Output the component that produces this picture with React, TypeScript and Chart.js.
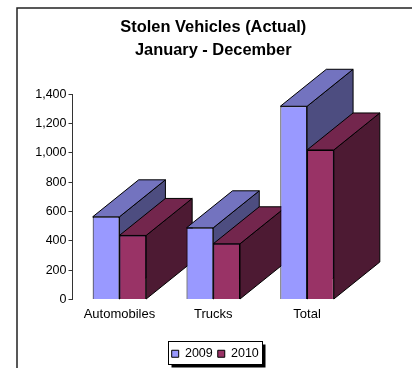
import React, { useEffect, useRef } from "react";
import { Chart, registerables } from "chart.js";

Chart.register(...registerables);

const categories = ["Automobiles", "Trucks", "Total"];
const series2009 = [564, 489, 1318];
const series2010 = [437, 380, 1020];
const seriesNames = ["2009", "2010"];
const frontColors = ["#9999ff", "#993366"];
const topColors = ["#7373bf", "#73264d"];
const sideColors = ["#4d4d80", "#4d1a33"];
const titleLines = ["Stolen Vehicles (Actual)", "January - December"];
const FONT = "'Liberation Sans', Arial, sans-serif";
const DX = 46;
const DY = 37;

const depth3d = {
  id: "depth3d",
  afterLayout(chart: any) {
    chart.legend.left += 2;
    chart.legend.right += 2;
    chart.legend.top += 2;
    chart.legend.bottom += 2;
  },
  beforeDraw(chart: any) {
    const c = chart.ctx;
    c.save();
    c.fillStyle = "#fff";
    c.fillRect(0, 0, chart.width, chart.height);
    c.strokeStyle = "#222";
    c.lineWidth = 1.5;
    c.beginPath();
    c.moveTo(17, 368);
    c.lineTo(17, 8);
    c.lineTo(412, 8);
    c.stroke();
    const g = chart.legend;
    const cx = (g.left + g.right) / 2;
    const w = 94;
    const h = 23;
    const x = Math.round(cx - w / 2) + 0.5;
    const y = Math.round(g.top - 2) + 0.5;
    c.fillStyle = "#000";
    c.fillRect(x + 3, y + 3, w, h);
    c.fillStyle = "#fff";
    c.fillRect(x, y, w, h);
    c.lineWidth = 1;
    c.strokeStyle = "#000";
    c.strokeRect(x, y, w, h);
    c.restore();
  },
  beforeDatasetsDraw(chart: any) {
    const c = chart.ctx;
    const poly = (pts: number[][], fill: string) => {
      c.beginPath();
      pts.forEach((p, i) => (i ? c.lineTo(p[0], p[1]) : c.moveTo(p[0], p[1])));
      c.closePath();
      c.fillStyle = fill;
      c.fill();
      c.stroke();
    };
    c.save();
    c.strokeStyle = "#000";
    c.lineWidth = 1;
    categories.forEach((_, i) => {
      chart.data.datasets.forEach((_d: any, di: number) => {
        const b = chart.getDatasetMeta(di).data[i];
        const l = b.x - b.width / 2;
        const r = b.x + b.width / 2;
        const t = b.y;
        const base = b.base;
        poly([[r, base], [r + DX, base - DY], [r + DX, t - DY], [r, t]], sideColors[di]);
        poly([[l, t], [l + DX, t - DY], [r + DX, t - DY], [r, t]], topColors[di]);
      });
    });
    c.restore();
  },
};

export default function App() {
  const ref = useRef<HTMLCanvasElement>(null);
  useEffect(() => {
    document.body.style.margin = "0";
    const chart = new Chart(ref.current!, {
      type: "bar",
      data: {
        labels: categories,
        datasets: [series2009, series2010].map((values, i) => ({
          label: seriesNames[i],
          data: values,
          backgroundColor: frontColors[i],
          borderColor: "#000",
          borderWidth: 1,
          categoryPercentage: 0.57,
          barPercentage: 1,
        })),
      },
      options: {
        responsive: false,
        animation: false,
        layout: { padding: { left: 0, right: 58, top: 0, bottom: 0 } },
        plugins: {
          tooltip: { enabled: false },
          title: {
            display: true,
            text: titleLines,
            fullSize: false,
            color: "#000",
            font: { family: FONT, size: 16.4, weight: "bold", lineHeight: 1.41 },
            padding: { top: 16, bottom: 32 },
          },
          legend: {
            display: true,
            position: "bottom",
            fullSize: false,
            labels: {
              color: "#000",
              font: { family: FONT, size: 12.5 },
              boxWidth: 7,
              boxHeight: 7,
              padding: 5,
            },
          },
        },
        scales: {
          x: {
            afterFit(s: any) {
              s.height = 41;
            },
            grid: { display: false },
            border: { display: false },
            ticks: { color: "#000", font: { family: FONT, size: 13 }, maxRotation: 0, padding: -1 },
          },
          y: {
            min: 0,
            max: 1400,
            afterFit(s: any) {
              s.width = 72.5;
            },
            grid: { drawOnChartArea: false, drawTicks: true, tickLength: 4, color: "#333" },
            border: { display: true, color: "#333" },
            ticks: {
              stepSize: 200,
              color: "#000",
              font: { family: FONT, size: 12.5 },
              padding: 2,
              callback: (v: any) => Number(v).toLocaleString("en-US"),
            },
          },
        },
      },
      plugins: [depth3d],
    } as any);
    return () => chart.destroy();
  }, []);
  return <canvas ref={ref} width={412} height={368} style={{ display: "block" }} />;
}
